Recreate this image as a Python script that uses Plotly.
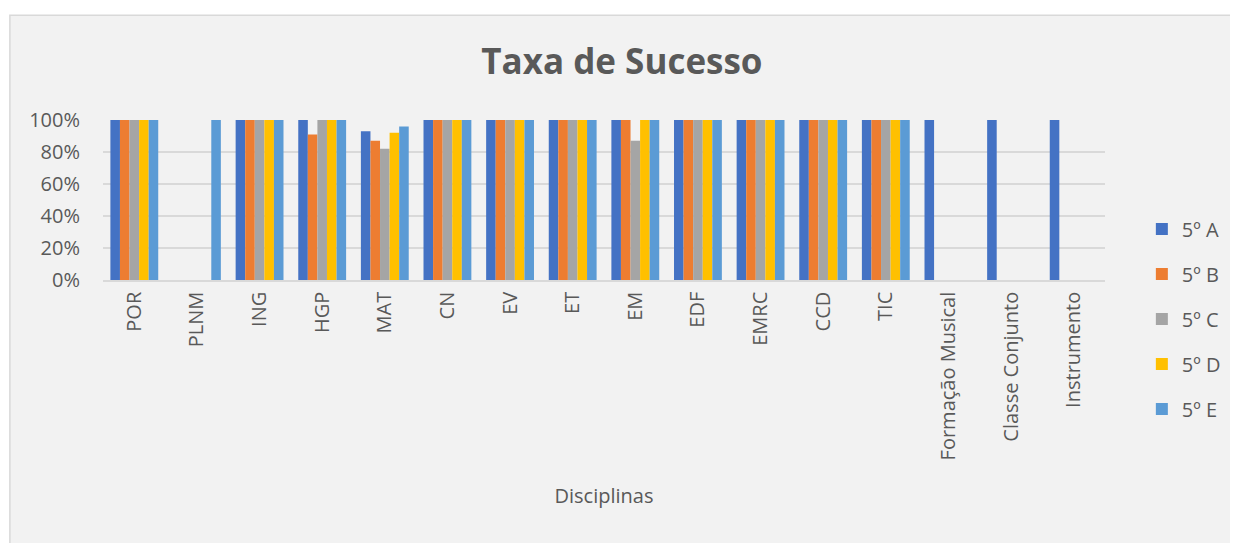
import plotly.graph_objects as go

categories = ["POR", "PLNM", "ING", "HGP", "MAT", "CN", "EV", "ET", "EM", "EDF",
              "EMRC", "CCD", "TIC", "Formação Musical", "Classe Conjunto", "Instrumento"]
series_names = ["5º A", "5º B", "5º C", "5º D", "5º E"]
a_vals = [1.00, None, 1.00, 1.00, 0.93, 1.00, 1.00, 1.00, 1.00, 1.00, 1.00, 1.00, 1.00, 1.00, 1.00, 1.00]
b_vals = [1.00, None, 1.00, 0.91, 0.87, 1.00, 1.00, 1.00, 1.00, 1.00, 1.00, 1.00, 1.00, None, None, None]
c_vals = [1.00, None, 1.00, 1.00, 0.82, 1.00, 1.00, 1.00, 0.87, 1.00, 1.00, 1.00, 1.00, None, None, None]
d_vals = [1.00, None, 1.00, 1.00, 0.92, 1.00, 1.00, 1.00, 1.00, 1.00, 1.00, 1.00, 1.00, None, None, None]
e_vals = [1.00, 1.00, 1.00, 1.00, 0.96, 1.00, 1.00, 1.00, 1.00, 1.00, 1.00, 1.00, 1.00, None, None, None]
colors = ["#4472C4", "#ED7D31", "#A5A5A5", "#FFC000", "#5B9BD5"]

FONT = "Open Sans"
TXT = "#595959"

fig = go.Figure()
for i, (name, vals) in enumerate(zip(series_names, [a_vals, b_vals, c_vals, d_vals, e_vals])):
    fig.add_trace(go.Bar(x=categories, y=vals, name=name, legendgroup=name,
                         marker=dict(color=colors[i], line=dict(width=0))))

OFF = 8  # page body margin
W, H = 1238 - OFF, 543 - OFF
L = 103 - OFF
T = 119.5 - OFF
R = W - (1109 - OFF)
B = H - (280 - OFF)
pw = W - L - R
ph = H - T - B

def px2x(p):
    return (p - OFF - L) / pw

def py2y(p):
    return (H - B - (p - OFF)) / ph

fig.add_shape(type="rect", xref="paper", yref="paper",
              x0=px2x(9.5), x1=px2x(1236.5), y0=py2y(560), y1=py2y(14.5),
              fillcolor="#F2F2F2", line=dict(color="#D9D9D9", width=1.5), layer="below")

fig.update_layout(
    width=W, height=H,
    margin=dict(l=L, r=R, t=T, b=B),
    paper_bgcolor="white",
    plot_bgcolor="rgba(0,0,0,0)",
    barmode="group",
    bargap=0.236,
    bargroupgap=0,
    title=dict(text="<b>Taxa de Sucesso</b>", x=px2x(624), xref="paper", xanchor="center",
               y=1 - (62 - OFF) / H, yanchor="middle",
               font=dict(family=FONT, size=35, color=TXT)),
    font=dict(family=FONT, size=20, color=TXT),
    legend=dict(x=px2x(1146), xref="paper", xanchor="left", y=py2y(319), yanchor="middle",
                font=dict(family=FONT, size=20, color=TXT), tracegroupgap=16,
                bgcolor="rgba(0,0,0,0)"),
    showlegend=True,
)
fig.update_xaxes(
    tickangle=-90, showgrid=False, showline=True, linecolor="#D9D9D9", linewidth=1.5,
    ticks="", ticklabelstandoff=2,
    tickfont=dict(family=FONT, size=20, color=TXT),
    title=dict(text="Disciplinas", font=dict(family=FONT, size=20, color=TXT), standoff=30),
)
fig.update_yaxes(
    range=[0, 1.0], tickformat=".0%", tickvals=[0, 0.2, 0.4, 0.6, 0.8, 1.0],
    showgrid=True, gridcolor="#D9D9D9", gridwidth=1.5, zeroline=False,
    ticks="", ticklabelstandoff=22,
    tickfont=dict(family=FONT, size=20, color=TXT),
)

fig.write_html("out.html")
